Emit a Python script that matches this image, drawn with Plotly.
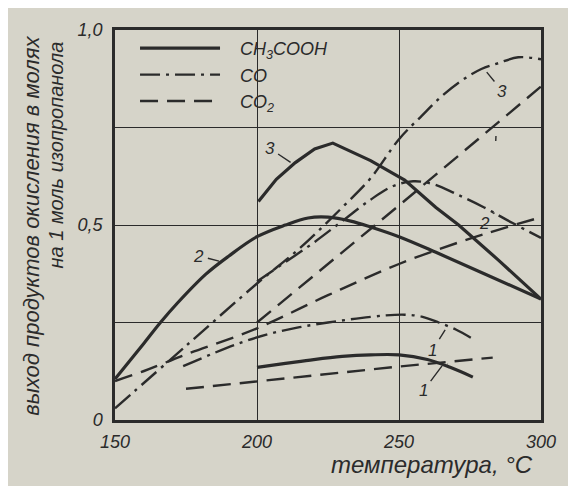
import plotly.graph_objects as go

# ---- data ----
t_acid_1 = [200, 210, 220, 230, 240, 250, 260, 268, 276]
acid_1 = [0.135, 0.145, 0.155, 0.163, 0.167, 0.167, 0.155, 0.135, 0.11]

t_acid_2 = [150, 155, 160, 166, 172, 182, 190, 200, 210, 218, 225, 233, 240, 250, 263, 280, 300]
acid_2 = [0.105, 0.15, 0.195, 0.25, 0.30, 0.374, 0.42, 0.47, 0.50, 0.518, 0.52, 0.51, 0.495, 0.47, 0.43, 0.375, 0.31]

t_acid_3 = [200.5, 206.8, 213.5, 220.3, 226.7, 240, 252, 263, 271, 285, 300]
acid_3 = [0.56, 0.617, 0.66, 0.695, 0.71, 0.665, 0.615, 0.545, 0.50, 0.41, 0.31]

t_co_1 = [174, 185, 195, 205, 215, 225, 235, 245, 252, 258, 264, 270, 276]
co_1 = [0.138, 0.172, 0.20, 0.222, 0.238, 0.25, 0.26, 0.268, 0.27, 0.265, 0.25, 0.232, 0.208]

t_co_2 = [200, 210, 220, 230, 240, 248, 255, 262, 270, 280, 290, 300]
co_2 = [0.355, 0.405, 0.455, 0.51, 0.565, 0.60, 0.612, 0.605, 0.58, 0.545, 0.505, 0.467]

t_co_3 = [150, 175, 200, 215, 230, 240, 250, 258, 265, 272, 279, 285, 292, 300]
co_3 = [0.03, 0.19, 0.35, 0.44, 0.545, 0.62, 0.72, 0.78, 0.83, 0.87, 0.90, 0.915, 0.93, 0.925]

t_co2_1 = [175, 250, 283]
co2_1 = [0.08, 0.137, 0.16]

t_co2_2 = [150, 160, 175, 200, 225, 250, 275, 300]
co2_2 = [0.10, 0.125, 0.168, 0.235, 0.32, 0.40, 0.465, 0.52]

t_co2_3 = [200, 250, 300]
co2_3 = [0.25, 0.55, 0.855]

x_ticks = [150, 200, 250, 300]
x_tick_text = ["150", "200", "250", "300"]
y_ticks = [0, 0.25, 0.5, 0.75, 1.0]
y_tick_text = ["0", "", "0,5", "", "1,0"]

legend_names = ["CH<sub>3</sub>COOH", "CO", "CO<sub>2</sub>"]
y_title_1 = "выход продуктов окисления в молях"
y_title_2 = "на 1 моль изопропанола"
x_title = "температура, °С"

# ---- style ----
INK = "#2b2b2b"
PAPER = "#d6d4c9"
FONT = "Liberation Sans"
SOLID = dict(color=INK, width=3.2)
DASHDOT = dict(color=INK, width=2.4, dash="20px,6px,3px,6px")
DASHED = dict(color=INK, width=2.4, dash="18px,9px")
GAP = "\u00a0" * 3

fig = go.Figure()

def add(t, v, line, name=None, shape="spline"):
    fig.add_trace(go.Scatter(
        x=t, y=v, mode="lines", line=dict(**line, shape=shape),
        name=(GAP + name) if name else "", showlegend=name is not None,
        hoverinfo="skip"))

add(t_acid_2, acid_2, SOLID, legend_names[0])
add(t_co_3, co_3, DASHDOT, legend_names[1])
add(t_co2_2, co2_2, DASHED, legend_names[2])
add(t_acid_1, acid_1, SOLID)
add(t_acid_3, acid_3, SOLID, shape="linear")
add(t_co_1, co_1, DASHDOT)
add(t_co_2, co_2, DASHDOT)
add(t_co2_1, co2_1, DASHED, shape="linear")
add(t_co2_3, co2_3, DASHED, shape="linear")

lab_font = dict(family=FONT, size=17, color=INK, style="italic")

def label(text, x, y, ax, ay):
    fig.add_annotation(x=x, y=y, text=text, ax=ax, ay=ay, showarrow=True,
                       arrowhead=0, arrowwidth=1.4, arrowcolor=INK,
                       standoff=4, startstandoff=2, font=lab_font)

label("3", 213, 0.655, -24, -16)
label("2", 188, 0.405, -24, -6)
label("3", 280, 0.90, 18, 22)
label(" ", 284, 0.705, 1, -22)
label("2", 284.5, 0.54, -12, 14)
label(" ", 287, 0.49, -6, -10)
label("1", 267, 0.24, -15, 24)
label(" ", 268, 0.135, -8, -10)
label("1", 266, 0.147, -21, 28)

fig.add_annotation(text=y_title_1, xref="paper", yref="paper",
                   x=-0.195, y=0.99, xanchor="center", yanchor="top",
                   textangle=-90, showarrow=False,
                   font=dict(family=FONT, size=22, color=INK, style="italic"))
fig.add_annotation(text=y_title_2, xref="paper", yref="paper",
                   x=-0.138, y=0.975, xanchor="center", yanchor="top",
                   textangle=-90, showarrow=False,
                   font=dict(family=FONT, size=20, color=INK, style="italic"))
fig.add_annotation(text=x_title, xref="paper", yref="paper",
                   x=0.745, y=-0.115, xanchor="center", yanchor="middle",
                   showarrow=False,
                   font=dict(family=FONT, size=24, color=INK, style="italic"))

tick_font = dict(family=FONT, size=18, color=INK, style="italic")

# the page body adds 8px on every side; the figure is sized so the page is 576x494
fig.update_layout(
    width=560, height=478,
    margin=dict(l=107, r=16, t=17, b=66),
    paper_bgcolor=PAPER, plot_bgcolor=PAPER,
    font=dict(family=FONT, color=INK),
    showlegend=True,
    legend=dict(x=0.047, y=1.0, xanchor="left", yanchor="top",
                bgcolor="rgba(0,0,0,0)", itemwidth=80,
                font=dict(family=FONT, size=18, color=INK, style="italic"),
                tracegroupgap=0, itemclick=False),
    xaxis=dict(range=[150, 300], tickvals=x_ticks, ticktext=x_tick_text,
               showgrid=True, gridcolor=INK, gridwidth=1.2,
               showline=True, linecolor=INK, linewidth=2.5, mirror=True,
               ticks="", zeroline=False, ticklabelstandoff=4,
               tickfont=tick_font),
    yaxis=dict(range=[0, 1], tickvals=y_ticks, ticktext=y_tick_text,
               showgrid=True, gridcolor=INK, gridwidth=1.2,
               showline=True, linecolor=INK, linewidth=2.5, mirror=True,
               ticks="", zeroline=False, ticklabelstandoff=6,
               tickfont=tick_font),
)

fig.write_html("out.html")
